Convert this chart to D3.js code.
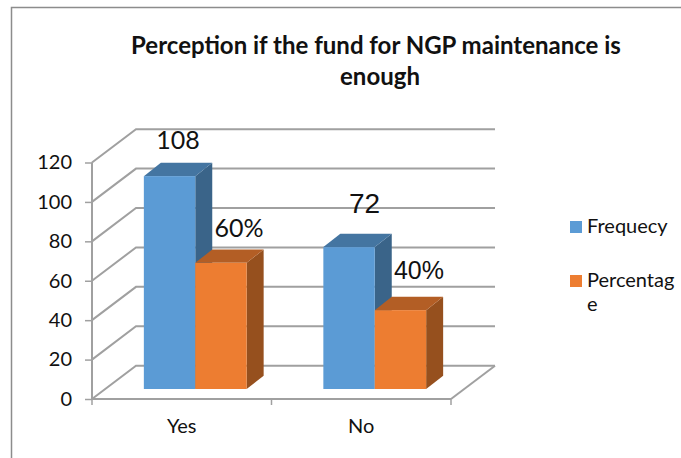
<!DOCTYPE html>
<html>
<head>
<meta charset="utf-8">
<script src="https://d3js.org/d3.v7.min.js"></script>
<style>
  html, body { margin: 0; padding: 0; background: #fff; }
  svg { display: block; }
  text { font-family: Lato, "Open Sans", sans-serif; fill: #111; }
</style>
</head>
<body>
<script>
var categories = ["Yes", "No"];
var seriesNames = ["Frequecy", "Percentage"];
var frequency = [108, 72];
var percentage = [64, 40];
var frequencyLabels = ["108", "72"];
var percentLabels = ["60%", "40%"];
var yTicks = [0, 20, 40, 60, 80, 100, 120];
var titleLines = ["Perception if the fund for NGP maintenance is", "enough"];
var legendLines = [["Frequecy"], ["Percentag", "e"]];

var width = 681, height = 458;
var colors = { blue: "#5b9bd5", blueTop: "#4475a1", blueSide: "#3a6489",
               orange: "#ed7d31", orangeTop: "#b35e25", orangeSide: "#96501e" };
var gridColor = "#a0a0a0";

// floor depth of the 3d box and of the bars
var depthX = 44, depthY = 33.3;
var barDepthX = 17, barDepthY = 13.3;
var barShiftX = 13.5, barShiftY = 10;
var barWidth = 51.4;

var svg = d3.select("body").append("svg")
  .attr("width", width)
  .attr("height", height);

// outer chart border, only top and left show
svg.append("path")
  .attr("d", "M11.5,458V7.5H681")
  .attr("fill", "none")
  .attr("stroke", "#8c8c8c")
  .attr("stroke-width", 1.5);

var y = d3.scaleLinear().domain([0, 120]).range([399, 162.5]);
var x = d3.scaleBand().domain(categories).range([92, 451]);
var xInner = d3.scaleBand().domain(seriesNames).range([-barWidth, barWidth]);

// back wall lines and the side wall
var grid = svg.append("g").attr("fill", "none").attr("stroke", gridColor).attr("stroke-width", 2);
grid.selectAll("path")
  .data(yTicks)
  .enter()
  .append("path")
  .attr("d", function (d) {
    var p = y(d);
    return "M92," + p + "L" + (92 + depthX) + "," + (p - depthY) + "H" + (451 + depthX);
  });

// floor edge on the right
grid.append("path")
  .attr("d", "M451," + y(0) + "L" + (451 + depthX) + "," + (y(0) - depthY));

var yAxis = d3.axisLeft(y).tickValues(yTicks).tickSize(7).tickPadding(13);
var xAxis = d3.axisBottom(x).tickSize(6).tickPadding(14);

var yG = svg.append("g").attr("transform", "translate(92,0)").call(yAxis);
var xG = svg.append("g").attr("transform", "translate(0,399)").call(xAxis);

// band axis ticks sit at the centers, the reference has them on the band edges
xG.selectAll(".tick line").remove();
xG.selectAll(".edge")
  .data(categories.concat("end"))
  .enter()
  .append("line")
  .attr("class", "edge")
  .attr("x1", function (d, i) { return 92 + i * x.bandwidth(); })
  .attr("x2", function (d, i) { return 92 + i * x.bandwidth(); })
  .attr("y1", 0)
  .attr("y2", 6)
  .attr("stroke", gridColor)
  .attr("stroke-width", 1.5);

[yG, xG].forEach(function (g) {
  g.select(".domain").attr("stroke", gridColor).attr("stroke-width", 2);
  g.selectAll("text").style("font-family", "Lato, sans-serif").style("font-size", "20px").attr("fill", "#111");
});
yG.selectAll(".tick line").attr("stroke", gridColor).attr("stroke-width", 1.5);
yG.select(".domain").attr("d", "M0," + y(120) + "V" + y(0));
xG.select(".domain").attr("d", "M92,0H451");

// flatten to one record per bar
var bars = [];
categories.forEach(function (c, i) {
  bars.push({ cat: c, series: seriesNames[0], value: frequency[i], front: colors.blue, lid: colors.blueTop, side: colors.blueSide });
  bars.push({ cat: c, series: seriesNames[1], value: percentage[i], front: colors.orange, lid: colors.orangeTop, side: colors.orangeSide });
});

function barLeft(d) { return x(d.cat) + x.bandwidth() / 2 + barShiftX + xInner(d.series); }
function barTop(d) { return y(d.value) - barShiftY; }
var base = y(0) - barShiftY;

var bar = svg.selectAll(".bar")
  .data(bars)
  .enter()
  .append("g")
  .attr("class", "bar");

bar.append("path")
  .attr("fill", function (d) { return d.side; })
  .attr("d", function (d) {
    var r = barLeft(d) + barWidth;
    return "M" + r + "," + barTop(d) + "l" + barDepthX + "," + (-barDepthY) + "V" + (base - barDepthY) + "l" + (-barDepthX) + "," + barDepthY + "Z";
  });

bar.append("path")
  .attr("fill", function (d) { return d.lid; })
  .attr("d", function (d) {
    return "M" + barLeft(d) + "," + barTop(d) + "l" + barDepthX + "," + (-barDepthY) + "h" + barWidth + "l" + (-barDepthX) + "," + barDepthY + "Z";
  });

bar.append("rect")
  .attr("x", barLeft)
  .attr("y", barTop)
  .attr("width", barWidth)
  .attr("height", function (d) { return base - barTop(d); })
  .attr("fill", function (d) { return d.front; });

// data labels
var labelData = [
  { text: frequencyLabels[0], cx: 178, by: 149, size: 25, font: "Lato, sans-serif" },
  { text: percentLabels[0], cx: 239, by: 237, size: 25, font: "Lato, sans-serif" },
  { text: frequencyLabels[1], cx: 364.5, by: 213, size: 28, font: "'Liberation Sans', sans-serif" },
  { text: percentLabels[1], cx: 419, by: 279, size: 25, font: "'Liberation Sans', sans-serif" }
];
svg.selectAll(".val")
  .data(labelData)
  .enter()
  .append("text")
  .attr("class", "val")
  .attr("x", function (d) { return d.cx; })
  .attr("y", function (d) { return d.by; })
  .attr("text-anchor", "middle")
  .style("font-family", function (d) { return d.font; })
  .style("font-size", function (d) { return d.size + "px"; })
  .text(function (d) { return d.text; });

// title
svg.selectAll(".title")
  .data(titleLines)
  .enter()
  .append("text")
  .attr("class", "title")
  .attr("x", function (d, i) { return i ? 380 : 376; })
  .attr("y", function (d, i) { return 54 + i * 31; })
  .attr("text-anchor", "middle")
  .style("font-weight", "bold")
  .style("font-size", "24px")
  .text(function (d) { return d; });

// legend
var legend = svg.selectAll(".legend")
  .data(legendLines)
  .enter()
  .append("g")
  .attr("class", "legend")
  .attr("transform", function (d, i) { return "translate(570," + (221 + i * 54) + ")"; });

legend.append("rect")
  .attr("width", 12)
  .attr("height", 12)
  .attr("fill", function (d, i) { return i ? colors.orange : colors.blue; });

legend.selectAll("text")
  .data(function (d) { return d; })
  .enter()
  .append("text")
  .attr("x", 17)
  .attr("y", function (d, i) { return 12 + i * 24; })
  .style("font-size", "20px")
  .text(function (d) { return d; });
</script>
</body>
</html>
